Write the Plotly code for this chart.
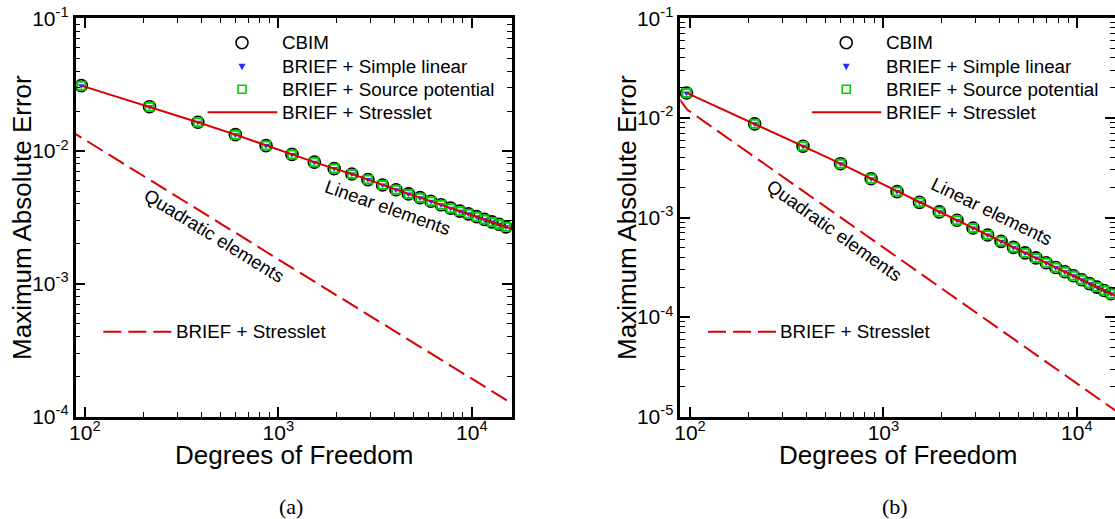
import math
import plotly.graph_objects as go

# Degrees of freedom of the linear-element meshes (same in both panels)
dof_linear = [96, 216, 384, 600, 864, 1176, 1536, 1944, 2400, 2904, 3456, 4056, 4704,
              5400, 6144, 6936, 7776, 8664, 9600, 10584, 11616, 12696, 13824, 15000, 16224]

# (a) maximum absolute error, linear elements (CBIM and all BRIEF variants coincide)
err_linear_a = [0.0311, 0.0216, 0.0165, 0.0133, 0.0110, 0.00944, 0.00826, 0.00738, 0.00673,
                0.00610, 0.00556, 0.00512, 0.00476, 0.00446, 0.00419, 0.00394, 0.00372,
                0.00353, 0.00337, 0.00321, 0.00306, 0.00293, 0.00281, 0.00269, 0.00258]

# (b) maximum absolute error, linear elements
err_linear_b = [0.0178, 0.00871, 0.0052, 0.00347, 0.00245, 0.00182, 0.00142, 0.00114,
                0.000938, 0.000785, 0.000668, 0.000576, 0.000501, 0.000441, 0.000393,
                0.000351, 0.000315, 0.000285, 0.000260, 0.000237, 0.000217, 0.000200,
                0.000185, 0.000172, 0.000160]

# Quadratic elements, BRIEF + Stresslet
dof_quad_a = [80, 96, 216, 384, 600, 864, 1536, 2400, 3456, 4704, 6144, 7776, 9600,
              11616, 13824, 16224]
err_quad_a = [0.01489, 0.01265, 0.00610, 0.00363, 0.00243, 0.001746, 0.001042, 0.000698,
              0.000502, 0.000380, 0.000300, 0.000242, 0.0002005, 0.0001687, 0.0001445,
              0.0001250]

dof_quad_b = [88, 97, 216, 384, 600, 864, 1536, 2400, 3456, 4704, 6144, 7776, 9600,
              11616, 13824, 16224, 18816]
err_quad_b = [0.01556, 0.01208, 0.00405, 0.00185, 0.001005, 0.000610, 0.000279, 0.0001514,
              0.0000918, 0.0000603, 0.0000420, 0.0000304, 0.0000228, 0.0000176, 0.0000139,
              0.0000111, 0.0000091]

legend_labels = ["CBIM", "BRIEF + Simple linear", "BRIEF + Source potential", "BRIEF + Stresslet"]
quad_label = "BRIEF + Stresslet"
x_title = "Degrees of Freedom"
y_title = "Maximum Absolute Error"
x_tick_vals = [100, 1000, 10000]
x_tick_text = ["10<sup>2</sup>", "10<sup>3</sup>", "10<sup>4</sup>"]
y_ticks_a = [1e-4, 1e-3, 1e-2, 1e-1]
y_ticks_b = [1e-5, 1e-4, 1e-3, 1e-2, 1e-1]

FONT = "Liberation Sans"
RED = "#d80000"
GREEN = "#00d000"
BLUE = "#2b2bff"
W, H = 1115, 519
TICK_SIZE = 21

fig = go.Figure()


def add_panel(xa, ya, x, y, xq, yq):
    # CBIM: open circles
    fig.add_trace(go.Scatter(x=x, y=y, xaxis=xa, yaxis=ya, mode="markers", cliponaxis=False,
                             marker=dict(symbol="circle-open", size=12, color="black",
                                         line=dict(width=1.6, color="black")),
                             showlegend=False, name=legend_labels[0]))
    # BRIEF + Source potential: open squares
    fig.add_trace(go.Scatter(x=x, y=y, xaxis=xa, yaxis=ya, mode="markers", cliponaxis=False,
                             marker=dict(symbol="square-open", size=8, color=GREEN,
                                         line=dict(width=2, color=GREEN)),
                             showlegend=False, name=legend_labels[2]))
    # BRIEF + Simple linear: small filled down-triangles
    fig.add_trace(go.Scatter(x=x, y=y, xaxis=xa, yaxis=ya, mode="markers", cliponaxis=False,
                             marker=dict(symbol="triangle-down", size=6, color=BLUE,
                                         line=dict(width=0)),
                             showlegend=False, name=legend_labels[1]))
    # BRIEF + Stresslet, linear elements
    fig.add_trace(go.Scatter(x=x, y=y, xaxis=xa, yaxis=ya, mode="lines",
                             line=dict(color=RED, width=2),
                             showlegend=False, name=legend_labels[3]))
    # BRIEF + Stresslet, quadratic elements
    fig.add_trace(go.Scatter(x=xq, y=yq, xaxis=xa, yaxis=ya, mode="lines",
                             line=dict(color=RED, width=2, dash="18px,7px"),
                             showlegend=False, name=quad_label))


add_panel("x", "y", dof_linear, err_linear_a, dof_quad_a, err_quad_a)
add_panel("x2", "y2", dof_linear, err_linear_b, dof_quad_b, err_quad_b)


def minor_vals(lo, hi):
    return [m * 10.0 ** e for e in range(lo, hi) for m in range(2, 10)]


def xaxis_cfg(domain, rng, anchor):
    return dict(type="log", domain=domain, range=rng, anchor=anchor, automargin=False,
                showline=True, linecolor="black", linewidth=2.5, mirror="allticks",
                ticks="inside", ticklen=10, tickwidth=2, tickcolor="black",
                tickmode="array", tickvals=x_tick_vals, ticktext=x_tick_text,
                ticklabelstandoff=-5,
                minor=dict(ticks="inside", ticklen=5, tickwidth=1, tickcolor="black",
                           tickmode="array", tickvals=minor_vals(1, 5)),
                showgrid=False, zeroline=False,
                tickfont=dict(family=FONT, size=TICK_SIZE, color="black"))


def yaxis_cfg(domain, rng, anchor, ticks, lo):
    return dict(type="log", domain=domain, range=rng, anchor=anchor, automargin=False,
                showline=True, linecolor="black", linewidth=2.5, mirror="allticks",
                ticks="inside", ticklen=10, tickwidth=2, tickcolor="black",
                tickmode="array", tickvals=ticks,
                ticktext=["10<sup>%d</sup>" % round(math.log10(t)) for t in ticks],
                minor=dict(ticks="inside", ticklen=5, tickwidth=1, tickcolor="black",
                           tickmode="array", tickvals=minor_vals(lo, -1)),
                showgrid=False, zeroline=False,
                tickfont=dict(family=FONT, size=TICK_SIZE, color="black"))


dom_a = [75.5 / W, 511.7 / W]
dom_b = [680.3 / W, 1.0]
dom_y = [(H - 416.7) / H, (H - 18.3) / H]

fig.update_layout(
    width=W, height=H,
    margin=dict(l=0, r=0, t=0, b=0, autoexpand=False),
    paper_bgcolor="white", plot_bgcolor="white",
    font=dict(family=FONT, color="black"),
    xaxis=xaxis_cfg(dom_a, [1.952, 4.206], "y"),
    yaxis=yaxis_cfg(dom_y, [-4, -1], "x", y_ticks_a, -4),
    xaxis2=xaxis_cfg(dom_b, [1.950, 4.197], "y2"),
    yaxis2=yaxis_cfg(dom_y, [-5, -1], "x2", y_ticks_b, -5),
)

# Axis titles, placed relative to each panel
TITLE_FONT = dict(family=FONT, size=26, color="black")
for xr, yr in [("x", "y"), ("x2", "y2")]:
    fig.add_annotation(xref=xr + " domain", yref="paper", x=0.5, y=(H - 455) / H,
                       text=x_title, showarrow=False, xanchor="center", yanchor="middle",
                       borderpad=0, font=TITLE_FONT)
    fig.add_annotation(xref=xr + " domain", yref=yr + " domain", x=-54 / 436, y=0.5,
                       text=y_title, showarrow=False, textangle=-90,
                       xanchor="center", yanchor="middle", borderpad=0, font=TITLE_FONT)

# Legend keys drawn in axis-domain coordinates
LEG_MARK_X = 0.3817
LEG_TEXT_X = 0.4679
LEG_ROWS = [0.9388, 0.8785, 0.8218, 0.7641]
LEG_LINE = (0.3028, 0.4624)
QLEG_LINE = (0.0637, 0.2217)
QLEG_Y = 0.2134


def add_legend(xref, yref):
    dx, dy = xref + " domain", yref + " domain"
    r0, r1, r2, r3 = LEG_ROWS
    fig.add_shape(type="circle", xref=dx, yref=dy, xsizemode="pixel", ysizemode="pixel",
                  xanchor=LEG_MARK_X, yanchor=r0, x0=-6, x1=6, y0=-6, y1=6,
                  line=dict(color="black", width=1.6))
    fig.add_shape(type="path", xref=dx, yref=dy, xsizemode="pixel", ysizemode="pixel",
                  xanchor=LEG_MARK_X, yanchor=r1, path="M-3.5,3 L3.5,3 L0,-3.5 Z",
                  fillcolor=BLUE, line=dict(width=0))
    fig.add_shape(type="rect", xref=dx, yref=dy, xsizemode="pixel", ysizemode="pixel",
                  xanchor=LEG_MARK_X, yanchor=r2, x0=-4, x1=4, y0=-4, y1=4,
                  line=dict(color=GREEN, width=1.6))
    fig.add_shape(type="line", xref=dx, yref=dy, x0=LEG_LINE[0], x1=LEG_LINE[1], y0=r3, y1=r3,
                  line=dict(color=RED, width=2))
    fig.add_shape(type="line", xref=dx, yref=dy, x0=QLEG_LINE[0], x1=QLEG_LINE[1],
                  y0=QLEG_Y, y1=QLEG_Y, line=dict(color=RED, width=2, dash="18px,7px"))
    for label, yy in zip(legend_labels, LEG_ROWS):
        fig.add_annotation(xref=dx, yref=dy, x=LEG_TEXT_X, y=yy, text=label, showarrow=False,
                           xanchor="left", yanchor="middle",
                           font=dict(family=FONT, size=18.8, color="black"))
    fig.add_annotation(xref=dx, yref=dy, x=QLEG_LINE[1] + 0.004, y=QLEG_Y, text=quad_label,
                       showarrow=False, xanchor="left", yanchor="middle",
                       font=dict(family=FONT, size=18.8, color="black"))


add_legend("x", "y")
add_legend("x2", "y2")


def curve_label(xref, yref, lx, ly, text, angle):
    fig.add_annotation(xref=xref, yref=yref, x=lx, y=ly, text=text, showarrow=False,
                       textangle=angle, xanchor="center", yanchor="middle",
                       font=dict(family=FONT, size=18.5, color="black"))


curve_label("x", "y", 3.566, -2.423, "Linear elements", 19.5)
curve_label("x", "y", 2.667, -2.637, "Quadratic elements", 31.7)
curve_label("x2", "y2", 3.561, -2.94, "Linear elements", 26)
curve_label("x2", "y2", 2.746, -3.134, "Quadratic elements", 35.5)

# Sub-figure captions
for cx, cap in [(291 / W, "(a)"), (895 / W, "(b)")]:
    fig.add_annotation(xref="paper", yref="paper", x=cx, y=(H - 506.7) / H, text=cap,
                       showarrow=False, xanchor="center", yanchor="middle",
                       font=dict(family="Liberation Serif", size=22, color="black"))

fig.write_html("out.html")
